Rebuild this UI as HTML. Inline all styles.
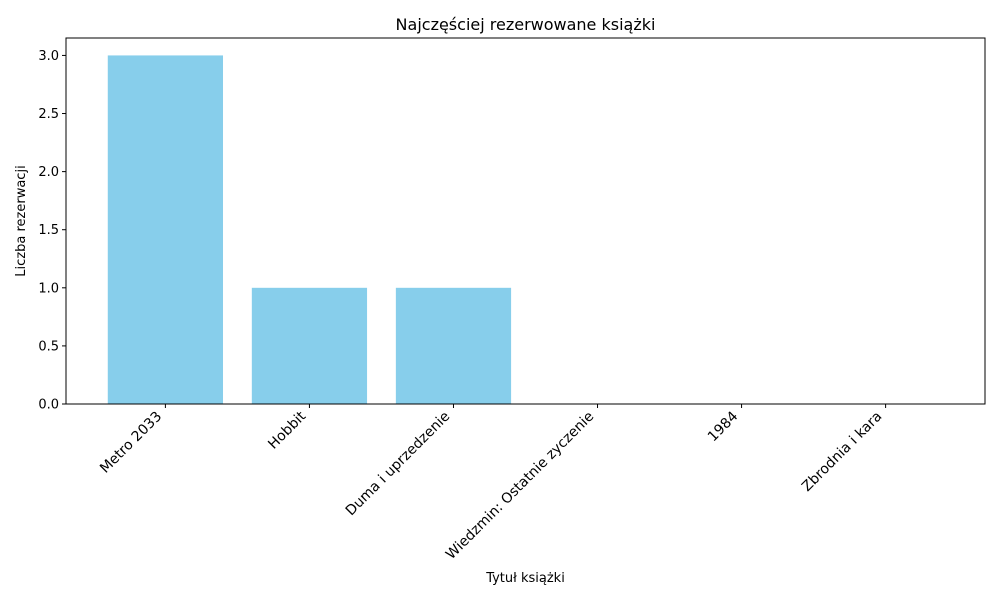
<!DOCTYPE html>
<html><head><meta charset="utf-8"><style>
html,body{margin:0;padding:0;background:#fff;}
svg{display:block;font-family:"DejaVu Sans","Liberation Sans",sans-serif;}
</style></head><body>
<svg id="chart" width="1000" height="600">
<rect width="1000" height="600" fill="#fff"/>
<text x="525.5" y="30" text-anchor="middle" font-size="16">Najczęściej rezerwowane książki</text>
<g id="bars"></g>
<g id="yticks"></g>
<g id="xticks"></g>
<rect x="66" y="38" width="919" height="366" fill="none" stroke="#000" stroke-width="1"/>
<text x="525.5" y="582" text-anchor="middle" font-size="13">Tytuł książki</text>
<text transform="translate(25,221) rotate(-90)" text-anchor="middle" font-size="13">Liczba rezerwacji</text>
</svg>
<script>
const categories = ["Metro 2033","Hobbit","Duma i uprzedzenie","Wiedzmin: Ostatnie zyczenie","1984","Zbrodnia i kara"];
const values = [3,1,1,0,0,0];
const yTicks = [0,0.5,1,1.5,2,2.5,3];
const yTickLabels = ["0.0","0.5","1.0","1.5","2.0","2.5","3.0"];

const L=66,R=985,T=38,B=404;
const yMax=Math.max(...values)*1.05||1;
const xMin=-0.69,xMax=categories.length-1+0.69;
const xs=v=>L+(v-xMin)/(xMax-xMin)*(R-L);
const ys=v=>B-v/yMax*(B-T);
const NS="http://www.w3.org/2000/svg";
function mk(tag,attrs,parent){const e=document.createElementNS(NS,tag);for(const k in attrs)e.setAttribute(k,attrs[k]);parent.appendChild(e);return e;}
const gb=document.getElementById('bars'),gy=document.getElementById('yticks'),gx=document.getElementById('xticks');
categories.forEach((c,i)=>{
  const x0=xs(i-0.4),x1=xs(i+0.4);
  const r=mk('rect',{x:x0,y:ys(values[i]),width:x1-x0,height:B-ys(values[i]),fill:'#87ceeb'},gb);
  
  
  const cx=xs(i);
  const t=mk('line',{x1:cx,x2:cx,y1:B,y2:B+4,stroke:'#000'},gx);
  
  
  const ax=cx-3,ay=B+13;
  const tx=mk('text',{x:ax,y:ay,'text-anchor':'end','font-size':'14',transform:`rotate(-45 ${ax} ${ay})`},gx);
  tx.textContent=c;
  
  
});
yTicks.forEach((v,i)=>{
  const y=ys(v);
  const t=mk('line',{x1:L-4,x2:L,y1:y,y2:y,stroke:'#000'},gy);
  
  
  const tx=mk('text',{x:L-7,y:y+4.5,'text-anchor':'end','font-size':'13'},gy);
  tx.textContent=yTickLabels[i];
  
  
});
</script>
</body></html>
